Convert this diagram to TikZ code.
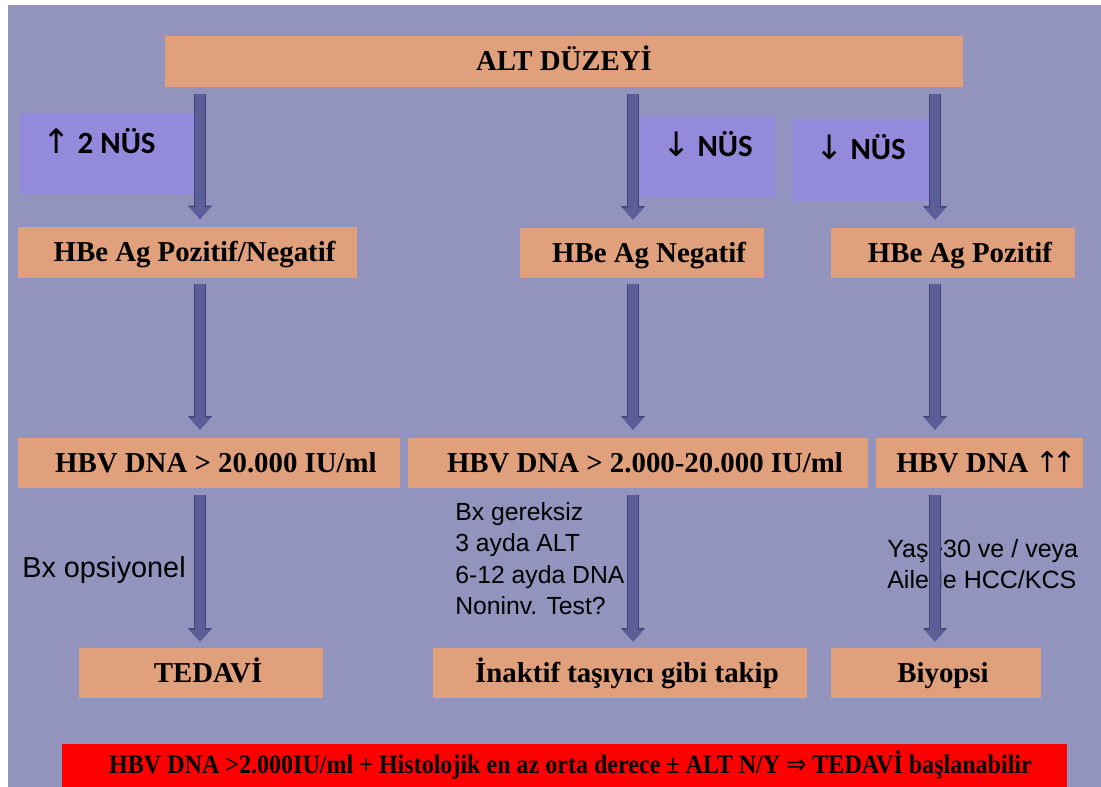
\documentclass[tikz,border=0pt]{standalone}
\usepackage{fontspec}
\setmainfont{Liberation Serif}
\setsansfont{Liberation Sans}
\newfontfamily\calfont{Carlito}
\newfontfamily\symfont{DejaVu Sans}
\newfontfamily\barfont[FakeStretch=0.9]{Liberation Serif}
\newfontfamily\barsym[FakeStretch=0.9]{DejaVu Sans}
\usetikzlibrary{arrows.meta,calc}

\definecolor{slidebg}{RGB}{146,148,189}
\definecolor{boxorange}{RGB}{224,160,124}
\definecolor{nuspurple}{RGB}{148,138,220}
\definecolor{arrowfill}{RGB}{92,94,152}
\definecolor{arrowedge}{RGB}{66,68,120}

\tikzset{
  box/.style = {fill=boxorange, minimum height=1.25cm, inner sep=0pt,
                text height=0.57cm, text depth=0.1cm,
                execute at begin node=\hspace{0.35cm},
                font=\bfseries\fontsize{20.5}{24}\selectfont},
  nus/.style = {fill=nuspurple, minimum height=2.025cm, inner sep=0pt,
                text height=0.49cm, text depth=0.5cm,
                font=\calfont\bfseries\fontsize{22}{26}\selectfont},
  note/.style = {inner sep=0pt, align=left,
                 font=\sffamily\fontsize{17.6}{22.4}\selectfont},
  flow/.style = {draw=arrowfill, line width=0.25cm,
                 -{Triangle[width=0.5cm,length=0.3cm]},
                 preaction={draw=arrowedge, line width=0.3cm,
                            -{Triangle[width=0.58cm,length=0.34cm]}}}
}
\newcommand{\nusarrow}[1]{{\symfont\mdseries\fontsize{24}{26}\selectfont #1}}

\begin{document}
\begin{tikzpicture}[x=0.025cm, y=-0.025cm]
    \useasboundingbox (0,0) rectangle (1101,787);
    \fill[white] (0,0) rectangle (1101,787);
    \fill[slidebg] (8,5) rectangle (1101,787);

    % arrow columns
    \coordinate (c1) at (200,0);
    \coordinate (c2) at (633,0);
    \coordinate (c3) at (935,0);

    % NUS boxes
    \node[nus, minimum width=4.4cm, execute at end node=\hspace{0.45cm}] (nus1) at (108,153.5) {\nusarrow{↑} 2 NÜS};
    \node[nus, minimum width=3.375cm] (nus2) at (707.5,156.5) {\nusarrow{↓} NÜS};
    \node[nus, minimum width=3.425cm] (nus3) at (860.5,160) {\nusarrow{↓} NÜS};

    % main boxes
    \node[box, minimum width=19.95cm, execute at begin node=\hspace{-0.35cm}] (alt) at (564,61.5) {ALT DÜZEYİ};

    \node[box, minimum width=8.475cm] (hbe1) at (187.5,252.5) {HBe Ag Pozitif/Negatif};
    \node[box, minimum width=6.1cm] (hbe2) at (642,253) {HBe Ag Negatif};
    \node[box, minimum width=6.1cm] (hbe3) at (953,253) {HBe Ag Pozitif};

    \node[box, minimum width=9.55cm] (dna1) at (209,463) {HBV DNA > 20.000 IU/ml};
    \node[box, minimum width=11.5cm] (dna2) at (638,463) {HBV DNA > 2.000-20.000 IU/ml};
    \node[box, minimum width=5.175cm] (dna3) at (979.5,463) {HBV DNA {\symfont\mdseries ↑\kern-0.25em↑}};

    \node[box, minimum width=6.1cm] (ted) at (201,673) {TEDAVİ};
    \node[box, minimum width=9.35cm] (inak) at (620,673) {İnaktif taşıyıcı gibi takip};
    \node[box, minimum width=5.25cm] (biy) at (936,673) {Biyopsi};

    \node[fill=red, minimum width=25.125cm, minimum height=1.075cm, inner sep=0pt,
          text height=0.5cm, text depth=0.12cm,
          font=\barfont\bfseries\fontsize{19}{22}\selectfont] (bar) at (564.5,765.5)
        {\hspace{0.3cm}HBV DNA >2.000IU/ml + Histolojik en az orta derece ± ALT N/Y {\barsym\mdseries ⇒} TEDAVİ başlanabilir};

    % side notes
    \node[note, anchor=west, font=\sffamily\fontsize{20.5}{24}\selectfont] (bxop) at (22,570) {Bx opsiyonel};
    \node[note, anchor=north west] (bxge) at (455,502) {Bx gereksiz\\3 ayda ALT\\6-12 ayda DNA\\Noninv. Test?};
    \node[note, anchor=north west, font=\sffamily\fontsize{17.8}{22.4}\selectfont] (yas) at (887,539) {Yaş>30 ve / veya\\Ailede HCC/KCS};

    % arrows
    \draw[flow] ($(alt.south -| c1)+(0,7)$) -- ($(hbe1.north -| c1)+(0,-8)$);
    \draw[flow] ($(alt.south -| c2)+(0,7)$) -- ($(hbe2.north -| c2)+(0,-8)$);
    \draw[flow] ($(alt.south -| c3)+(0,7)$) -- ($(hbe3.north -| c3)+(0,-8)$);

    \draw[flow] ($(hbe1.south -| c1)+(0,6)$) -- ($(dna1.north -| c1)+(0,-8)$);
    \draw[flow] ($(hbe2.south -| c2)+(0,6)$) -- ($(dna2.north -| c2)+(0,-8)$);
    \draw[flow] ($(hbe3.south -| c3)+(0,6)$) -- ($(dna3.north -| c3)+(0,-8)$);

    \draw[flow] ($(dna1.south -| c1)+(0,7)$) -- ($(ted.north -| c1)+(0,-6)$);
    \draw[flow] ($(dna2.south -| c2)+(0,7)$) -- ($(inak.north -| c2)+(0,-6)$);
    \draw[flow] ($(dna3.south -| c3)+(0,7)$) -- ($(biy.north -| c3)+(0,-6)$);
\end{tikzpicture}
\end{document}
